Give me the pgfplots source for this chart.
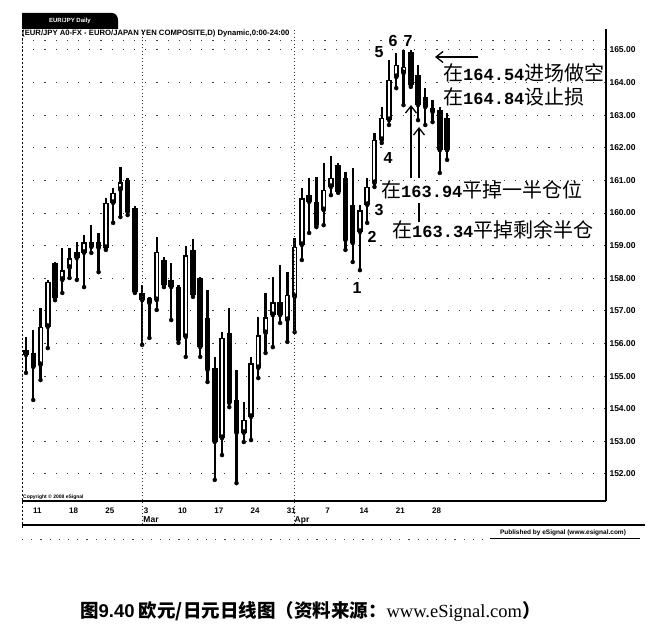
\documentclass[border=0pt]{standalone}
\usepackage{pgfplots}
\pgfplotsset{compat=1.18}
\usepackage{pgfplotstable}
\usetikzlibrary{arrows.meta}
\usepackage{fontspec}
\setmainfont{Liberation Sans}
\newfontfamily\cjk{Noto Sans CJK SC}
\newfontfamily\mono{Liberation Mono}
\newfontfamily\serif{Liberation Serif}

% daily bars, n = trading day (1 = Fri 8 Feb)
\pgfplotstableread{
n o h l c
1 155.80 156.20 155.10 155.65
2 155.71 156.42 154.27 155.28
5 158.47 158.50 157.33 157.40
8 158.81 159.11 157.95 158.62
10 159.11 159.63 158.78 158.96
11 159.11 159.39 158.19 158.93
15 161.01 161.08 159.94 160.03
16 160.16 160.22 157.55 157.58
17 157.55 157.79 155.96 157.33
18 157.40 157.43 156.17 157.24
20 158.56 158.65 157.73 157.79
21 157.95 158.47 156.72 157.73
22 157.73 157.79 156.02 156.11
24 158.87 159.21 157.43 157.49
25 158.01 158.04 155.59 155.89
26 156.78 157.64 154.82 155.19
27 155.25 155.59 151.82 152.98
29 156.32 157.09 154.05 154.18
30 154.27 155.19 151.72 153.26
36 157.27 158.41 156.63 156.87
40 160.55 161.08 159.39 160.34
41 160.34 161.11 159.57 159.63
44 161.47 161.54 160.62 160.65
45 161.08 161.26 158.87 159.17
46 160.25 161.38 158.50 159.08
54 164.94 165.00 163.87 163.93
55 164.23 164.54 162.85 163.31
56 163.56 163.83 162.70 163.25
57 163.22 163.47 162.79 163.10
58 163.16 163.25 161.23 161.93
59 162.92 163.07 161.63 161.93
}\bear

\pgfplotstableread{
n o h l c
3 155.34 157.09 154.88 156.51
4 156.51 157.95 155.86 157.89
6 157.95 158.93 157.55 158.25
7 158.32 158.93 158.01 158.62
9 158.78 159.33 157.73 159.11
12 158.93 160.46 158.87 160.31
13 160.31 160.77 159.70 160.62
14 160.71 161.41 159.88 160.95
19 157.33 159.27 157.03 158.81
23 156.20 158.99 155.59 158.71
28 153.10 156.35 152.58 156.17
31 153.26 154.21 152.98 153.66
32 153.75 155.59 153.04 155.40
33 155.25 156.81 154.94 156.26
34 156.32 157.55 155.71 156.81
35 156.87 158.04 155.89 157.27
37 156.72 158.19 156.05 157.49
38 157.43 159.24 156.35 158.96
39 159.02 160.77 158.56 160.46
42 160.09 161.54 159.63 160.71
43 160.80 161.75 160.55 161.08
47 159.42 160.25 158.25 160.09
48 160.25 161.08 159.70 160.80
49 160.92 162.46 160.80 162.24
50 162.24 163.25 162.15 162.92
51 162.85 164.69 162.70 164.08
52 164.17 164.91 163.83 164.54
53 164.29 165.00 163.31 164.48
}\bull

\begin{document}
\begin{tikzpicture}[x=1pt,y=1pt]
\fill[white] (0,0) rectangle (656,640);

\begin{axis}[
  at={(22pt,139pt)}, anchor=south west,
  width=584pt, height=472pt, scale only axis,
  xmin=0.449, xmax=80.89, ymin=151.172, ymax=165.644,
  axis x line*=bottom, axis y line*=right,
  axis line style={-, line width=1.4pt},
  tick style={draw=none},
  ytick={152,...,165},
  xtick={2,7,12,17,22,27,32,37,42,47,52,57},
  xticklabels={11,18,25,3,10,17,24,31,7,14,21,28},
  xticklabel style={font=\bfseries\fontsize{8}{8}\selectfont, yshift=-3pt, xshift=4pt},
  yticklabel style={font=\bfseries\fontsize{8.5}{8.5}\selectfont,
    /pgf/number format/.cd, fixed, fixed zerofill, precision=2, 1000 sep={}},
  /pgf/number format/assume math mode=true,
  ymajorgrids,
  major grid style={black!75, line width=1pt, dash pattern=on 1.2pt off 10pt},
]
% wicks
\addplot[only marks, mark=none, error bars/.cd, y dir=plus, y explicit, error mark=none,
  error bar style={draw=black, line width=2.3pt}]
  table[x=n, y=l, y error expr=\thisrow{h}-\thisrow{l}] {\bear};
\addplot[only marks, mark=none, error bars/.cd, y dir=plus, y explicit, error mark=none,
  error bar style={draw=black, line width=2.3pt}]
  table[x=n, y=l, y error expr=\thisrow{h}-\thisrow{l}] {\bull};
% filled bodies (down days)
\addplot[only marks, mark=none, error bars/.cd, y dir=plus, y explicit, error mark=none,
  error bar style={draw=black, line width=5.5pt}]
  table[x=n, y=c, y error expr=\thisrow{o}-\thisrow{c}] {\bear};
% hollow bodies (up days)
\addplot[only marks, mark=none, error bars/.cd, y dir=plus, y explicit, error mark=none,
  error bar style={draw=black, line width=5.5pt}]
  table[x=n, y=o, y error expr=\thisrow{c}-\thisrow{o}] {\bull};
\addplot[only marks, mark=none, error bars/.cd, y dir=plus, y explicit, error mark=none,
  error bar style={draw=white, line width=2pt}]
  table[x=n, y expr=\thisrow{o}+0.045, y error expr={max(\thisrow{c}-\thisrow{o}-0.09,0)}] {\bull};
\end{axis}

\begin{scope}[y=-1pt, yshift=640pt]
% frame bits
\draw[line width=0.8pt, dash pattern=on 2pt off 2pt] (22,30) -- (22,528);
\draw[black!75, line width=1pt, dash pattern=on 1.2pt off 10pt] (22,41) -- (600,41);
\draw[black!80, line width=1pt, dash pattern=on 1pt off 2.5pt] (142.2,30) -- (142.2,525);
\draw[black!80, line width=1pt, dash pattern=on 1pt off 2.5pt] (294.6,30) -- (294.6,525);
\draw[line width=1.4pt] (22,525) -- (645,525);
\draw[black!75, line width=1pt, dash pattern=on 1.2pt off 8pt] (22,540) -- (488,540);
\fill[black] (22,29) -- (22,13) -- (112,13) to[out=0,in=90] (118,20) -- (118,29) -- cycle;
\node[white, font=\bfseries\fontsize{6}{6}\selectfont] at (70,21) {EUR/JPY Daily};
\node[anchor=west, inner sep=0, font=\bfseries\fontsize{7.7}{7.7}\selectfont] at (22,33.5)
  {(EUR/JPY A0-FX - EURO/JAPAN YEN COMPOSITE,D) Dynamic,0:00-24:00};
\node[anchor=west, inner sep=0, font=\bfseries\fontsize{5}{5}\selectfont] at (23,497) {Copyright \textcopyright\ 2008 eSignal};
\node[font=\bfseries\fontsize{8.5}{8.5}\selectfont] at (151,520) {Mar};
\node[font=\bfseries\fontsize{8.5}{8.5}\selectfont] at (302,520) {Apr};
\node[font=\bfseries\fontsize{6.5}{6.5}\selectfont] at (563,533) {Published by eSignal (www.esignal.com)};
\draw[line width=0.8pt] (490,538) -- (640,538);

% wave counts
\begin{scope}[font=\bfseries\fontsize{16}{16}\selectfont]
\node at (379,52) {5};
\node at (393,41) {6};
\node at (408,41) {7};
\node at (388,158) {4};
\node at (379,210) {3};
\node at (372,237) {2};
\node at (357,288) {1};
\end{scope}

% arrows
\draw[line width=1.3pt, -{Straight Barb[length=7pt, width=11pt]}] (478,57) -- (435,57);
\draw[line width=1.3pt, -{Straight Barb[length=7pt, width=11pt]}] (411,178) -- (411,105);
\draw[line width=1.3pt] (419,222) -- (419,203);
\draw[line width=1.3pt, -{Straight Barb[length=7pt, width=11pt]}] (419,178) -- (419,127);

% trade notes
\node[anchor=west, inner sep=0] at (443,73) {\cjk\fontsize{20}{20}\selectfont 在{\mono\bfseries\fontsize{17}{17}\selectfont 164.54}进场做空};
\node[anchor=west, inner sep=0] at (443,97) {\cjk\fontsize{20}{20}\selectfont 在{\mono\bfseries\fontsize{17}{17}\selectfont 164.84}设止损};
\node[anchor=west, inner sep=0] at (381,190) {\cjk\fontsize{20}{20}\selectfont 在{\mono\bfseries\fontsize{17}{17}\selectfont 163.94}平掉一半仓位};
\node[anchor=west, inner sep=0] at (392,230) {\cjk\fontsize{20}{20}\selectfont 在{\mono\bfseries\fontsize{17}{17}\selectfont 163.34}平掉剩余半仓};

% caption
\node[anchor=west, inner sep=0] at (80,612) {\cjk\bfseries\fontsize{18.5}{18.5}\selectfont 图{\fontspec{Liberation Sans}\bfseries 9.40} 欧元/日元日线图（资料来源：{\serif\mdseries www.eSignal.com}）};
\end{scope}
\end{tikzpicture}
\end{document}
